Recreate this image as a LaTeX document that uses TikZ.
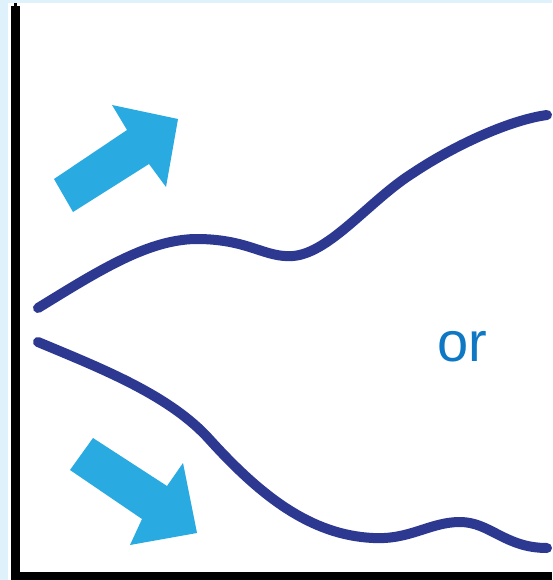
\documentclass[tikz,border=0pt]{standalone}
\usepackage{fontspec}
\setmainfont{Liberation Sans}
\definecolor{bgblue}{HTML}{DFF1FB}
\definecolor{curveblue}{HTML}{2D3990}
\definecolor{arrowcyan}{HTML}{29ABE2}
\definecolor{textblue}{HTML}{0F78C4}
\tikzset{
  wave/.style={draw=curveblue, line width=10pt, line cap=round, line join=round},
  fatarrow/.style={fill=arrowcyan, draw=none},
  axisline/.style={fill=black, draw=none}
}
\begin{document}
\begin{tikzpicture}[x=1pt,y=-1pt]
\useasboundingbox (0,0) rectangle (552,580);
\fill[bgblue] (0,0) rectangle (552,580);
\fill[white] (8,3) rectangle (552,580);
% axes
\fill[axisline] (11,6) rectangle (20,580);
\fill[axisline] (14,3) rectangle (17,6);
\fill[axisline] (11,572) rectangle (552,580);
% arrows
\fill[fatarrow] (73,212) -- (54,179) -- (127,130) -- (112,105) -- (178,119) -- (166,187) -- (149,164) -- cycle;
\fill[fatarrow] (93,438) -- (70,470) -- (142,519) -- (130,545) -- (197,533) -- (183,463) -- (167,486) -- cycle;
% curves
\draw[wave] (38,308) .. controls (100,270) and (150,238) .. (200,239)
  .. controls (250,240) and (265,258) .. (293,256)
  .. controls (330,253) and (370,200) .. (413,173)
  .. controls (455,145) and (510,120) .. (547,115);
\draw[wave] (38,342) .. controls (100,368) and (170,395) .. (210,440)
  .. controls (260,495) and (310,535) .. (373,538)
  .. controls (410,540) and (430,522) .. (460,522)
  .. controls (490,522) and (505,548) .. (547,548);
\node[text=textblue, font=\fontsize{56}{60}\selectfont, inner sep=0pt] (or) at (462,347) {or};
\end{tikzpicture}
\end{document}
